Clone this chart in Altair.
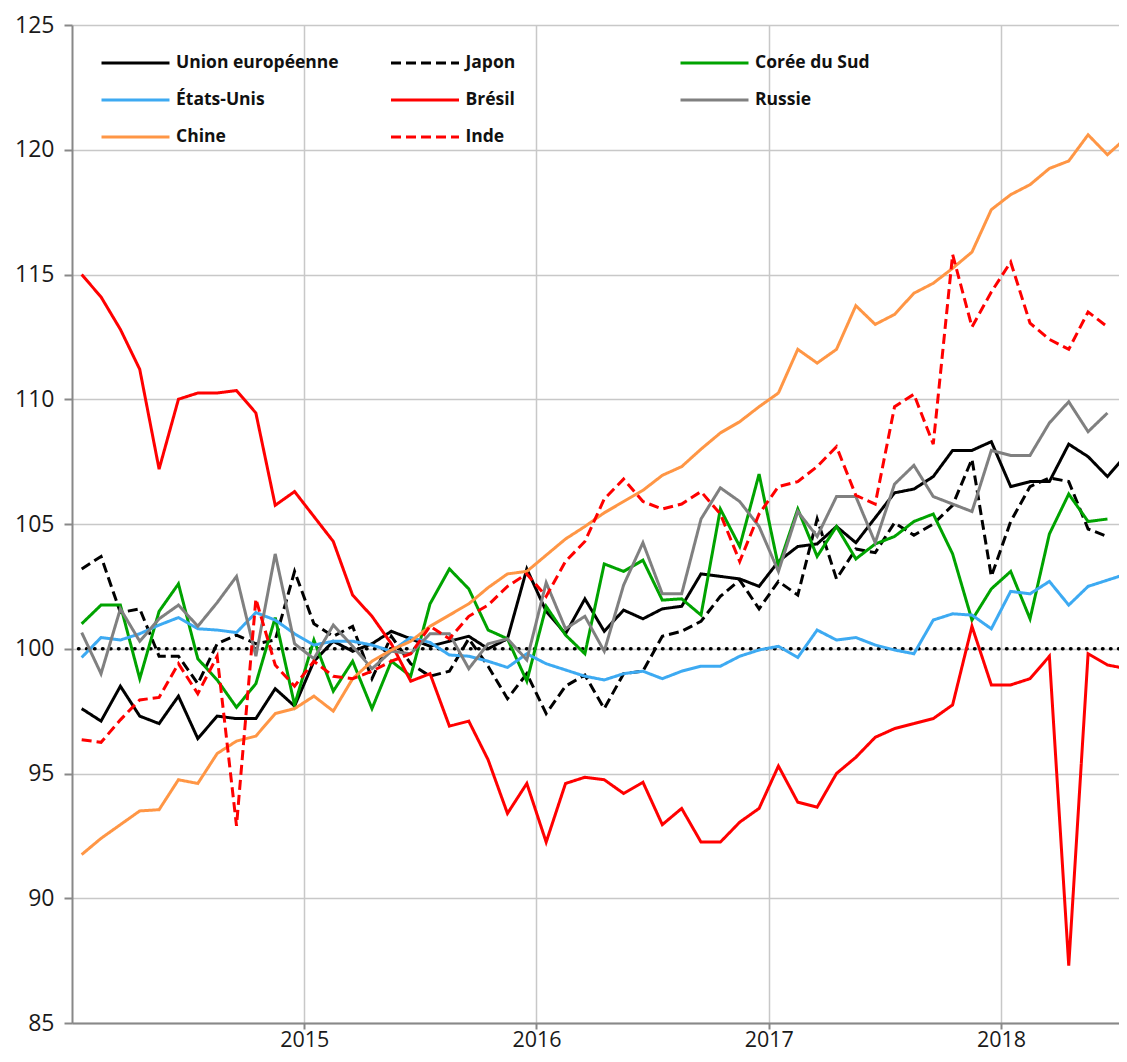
import altair as alt
import pandas as pd

# Monthly observations, Jan 2014 onwards (index 100 reference)
years = [2014, 2015, 2016, 2017, 2018]
year_ticks = [2015, 2016, 2017, 2018]
y_ticks = [85, 90, 95, 100, 105, 110, 115, 120, 125]

series_names = ["Union européenne", "Japon", "Corée du Sud", "États-Unis",
                "Brésil", "Russie", "Chine", "Inde"]
series_colors = ["#000000", "#000000", "#00A300", "#3DAAF2",
                 "#FF0000", "#808080", "#FF9645", "#FF0000"]
series_dashes = [[1, 0], [10, 5], [1, 0], [1, 0], [1, 0], [1, 0], [1, 0], [10, 5]]

ue = [97.6, 97.1, 98.5, 97.3, 97.0, 98.1, 96.4, 97.3, 97.2, 97.2, 98.4, 97.7,
      99.5, 100.3, 99.9, 100.2, 100.7, 100.4, 100.1, 100.3, 100.5, 100.0, 100.4, 103.2,
      101.5, 100.6, 102.0, 100.7, 101.55, 101.2, 101.6, 101.7, 103.0, 102.9, 102.8, 102.5,
      103.5, 104.1, 104.2, 104.9, 104.25, 105.25, 106.25, 106.4, 106.9, 107.95, 107.95, 108.3,
      106.5, 106.7, 106.7, 108.2, 107.7, 106.9, 107.8]
japon = [103.2, 103.7, 101.45, 101.6, 99.7, 99.7, 98.6, 100.2, 100.55, 100.2, 100.35, 103.1,
         101.0, 100.5, 100.9, 98.8, 100.5, 99.4, 98.9, 99.1, 100.4, 99.3, 98.0, 99.0,
         97.4, 98.5, 98.95, 97.6, 99.0, 99.1, 100.5, 100.7, 101.1, 102.1, 102.75, 101.6,
         102.7, 102.15, 105.2, 102.8, 104.0, 103.85, 105.05, 104.55, 105.0, 105.75, 107.6, 102.9,
         105.1, 106.5, 106.85, 106.7, 104.8, 104.5]
coree = [101.0, 101.75, 101.75, 98.8, 101.5, 102.6, 99.6, 98.75, 97.65, 98.6, 101.25, 97.75,
         100.35, 98.3, 99.5, 97.6, 99.5, 98.9, 101.8, 103.2, 102.4, 100.75, 100.4, 98.7,
         101.7, 100.55, 99.8, 103.4, 103.1, 103.55, 101.95, 102.0, 101.35, 105.6, 104.1, 107.0,
         103.3, 105.6, 103.7, 104.9, 103.6, 104.2, 104.5, 105.1, 105.4, 103.8, 101.15, 102.4,
         103.1, 101.2, 104.6, 106.2, 105.1, 105.2]
usa = [99.65, 100.45, 100.35, 100.6, 100.95, 101.25, 100.8, 100.75, 100.65, 101.45, 101.15, 100.6,
       100.15, 100.3, 100.3, 100.15, 99.9, 100.45, 100.25, 99.75, 99.7, 99.5, 99.25, 99.8,
       99.4, 99.15, 98.9, 98.75, 99.0, 99.1, 98.8, 99.1, 99.3, 99.3, 99.7, 99.95,
       100.1, 99.65, 100.75, 100.35, 100.45, 100.15, 99.95, 99.8, 101.15, 101.4, 101.35, 100.8,
       102.3, 102.2, 102.7, 101.75, 102.5, 102.75, 103.0]
bresil = [115.0, 114.1, 112.8, 111.2, 107.2, 110.0, 110.25, 110.25, 110.35, 109.45, 105.75, 106.3,
          105.3, 104.3, 102.15, 101.3, 100.2, 98.7, 99.0, 96.9, 97.1, 95.55, 93.4, 94.6,
          92.25, 94.6, 94.85, 94.75, 94.2, 94.65, 92.95, 93.6, 92.25, 92.25, 93.05, 93.6,
          95.3, 93.85, 93.65, 95.0, 95.65, 96.45, 96.8, 97.0, 97.2, 97.75, 100.9, 98.55,
          98.55, 98.8, 99.7, 87.3, 99.8, 99.35, 99.2]
russie = [100.65, 99.0, 101.6, 100.3, 101.2, 101.75, 100.9, 101.85, 102.9, 99.7, 103.8, 100.2,
          99.6, 100.95, 100.1, 99.2, 99.9, 99.8, 100.6, 100.6, 99.2, 100.2, 100.4, 99.55,
          102.65, 100.8, 101.3, 99.9, 102.55, 104.25, 102.2, 102.2, 105.2, 106.45, 105.9, 104.9,
          103.1, 105.5, 104.5, 106.1, 106.1, 104.25, 106.6, 107.35, 106.1, 105.8, 105.5, 107.95,
          107.75, 107.75, 109.05, 109.9, 108.7, 109.45]
chine = [91.75, 92.4, 92.95, 93.5, 93.55, 94.75, 94.6, 95.8, 96.3, 96.5, 97.4, 97.6,
         98.1, 97.5, 98.8, 99.5, 99.95, 100.3, 100.9, 101.35, 101.8, 102.45, 103.0, 103.1,
         103.75, 104.4, 104.9, 105.45, 105.9, 106.35, 106.95, 107.3, 108.0, 108.65, 109.1, 109.7,
         110.25, 112.0, 111.45, 112.0, 113.75, 113.0, 113.4, 114.25, 114.65, 115.25, 115.9, 117.6,
         118.2, 118.6, 119.25, 119.55, 120.6, 119.8, 120.5]
inde = [96.35, 96.25, 97.15, 97.95, 98.05, 99.4, 98.2, 99.7, 92.9, 102.0, 99.35, 98.5,
        99.5, 98.9, 98.8, 99.1, 99.5, 99.8, 100.9, 100.4, 101.3, 101.75, 102.5, 103.0,
        102.1, 103.5, 104.3, 106.0, 106.8, 105.9, 105.6, 105.8, 106.3, 105.4, 103.5, 105.4,
        106.5, 106.7, 107.3, 108.1, 106.15, 105.8, 109.7, 110.2, 108.2, 115.8, 112.9, 114.3,
        115.5, 113.05, 112.4, 112.0, 113.5, 112.9]

series_values = [ue, japon, coree, usa, bresil, russie, chine, inde]

rows = []
for name, vals in zip(series_names, series_values):
    for i, v in enumerate(vals):
        year = years[0] + i // 12
        month = i % 12 + 1
        rows.append({"pays": name, "t": year + (month - 0.5) / 12, "valeur": v})
df = pd.DataFrame(rows)

plot_w = 1047
x_end = 2014 + plot_w / 232.25

legend = alt.Legend(
    title=None, orient="none", legendX=28, legendY=28, direction="horizontal",
    columns=3, gridAlign="all", columnPadding=50.5, rowPadding=17, clipHeight=20,
    symbolType="stroke", symbolSize=4624, symbolStrokeWidth=3,
    labelFont="Open Sans", labelFontSize=17.5, labelFontWeight="bold",
    labelColor="#111111", labelOffset=5, labelLimit=400,
)

lines = alt.Chart(df).mark_line(strokeWidth=3, clip=True).encode(
    x=alt.X("t:Q", scale=alt.Scale(domain=[2014, x_end], nice=False, zero=False),
            axis=alt.Axis(values=year_ticks, format="d", title=None,
                          labelPadding=0, tickSize=6, labelFontSize=21.5)),
    y=alt.Y("valeur:Q", scale=alt.Scale(domain=[85, 125], nice=False, zero=False),
            axis=alt.Axis(values=y_ticks, title=None, labelPadding=10)),
    color=alt.Color("pays:N", scale=alt.Scale(domain=series_names, range=series_colors),
                    legend=legend),
    strokeDash=alt.StrokeDash("pays:N", scale=alt.Scale(domain=series_names, range=series_dashes),
                              legend=legend),
    order=alt.Order("t:Q"),
)

ref = alt.Chart(pd.DataFrame({"ref": [100]})).mark_rule(
    color="black", strokeWidth=3.5, strokeDash=[0.5, 7.5], strokeCap="round"
).encode(y="ref:Q")

chart = alt.layer(ref, lines).properties(
    width=plot_w, height=998,
    autosize=alt.AutoSizeParams(type="none"),
    padding={"left": 64, "top": 17, "right": 0, "bottom": 31},
).configure_view(stroke=None).configure_axis(
    labelFont="Open Sans", labelFontSize=23, labelColor="#1a1a1a",
    gridColor="#c8c8c8", gridWidth=1.5,
    domainColor="#888888", domainWidth=2,
    tickColor="#888888", tickWidth=2, tickSize=8,
)

chart.save("out.html", embed_options={"renderer": "svg", "actions": False})
